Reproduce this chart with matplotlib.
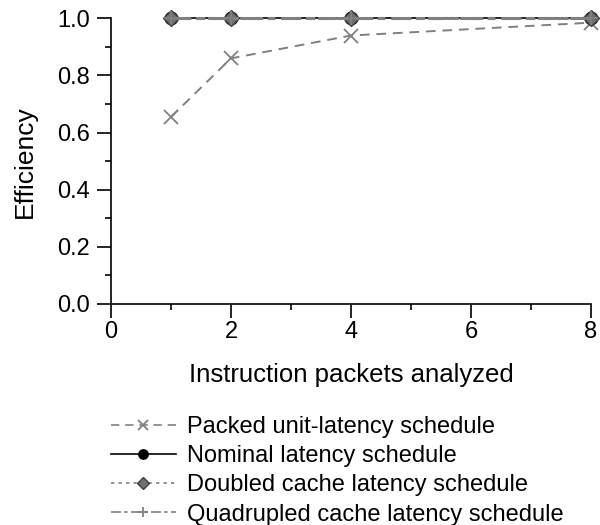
import matplotlib.pyplot as plt
from matplotlib.ticker import MultipleLocator

# packets analyzed
packets = [1, 2, 4, 8]

# efficiency per schedule
packed_unit = [0.655, 0.86, 0.94, 0.985]
nominal = [1.0, 1.0, 1.0, 1.0]
doubled_cache = [1.0, 1.0, 1.0, 1.0]
quadrupled_cache = [1.0, 1.0, 1.0, 1.0]

plt.rcParams['font.family'] = ['Liberation Sans', 'DejaVu Sans']
plt.rcParams['font.size'] = 17

fig = plt.figure(figsize=(6, 5.25), dpi=100)
ax = fig.add_axes([0.185, 0.421, 0.80, 0.544])

gray = '#808080'
ax.plot(packets, packed_unit, color=gray, linestyle=(0, (5, 3.5)), linewidth=1.4,
        marker='x', markersize=10, markeredgewidth=1.3,
        label='Packed unit-latency schedule', clip_on=False)
ax.plot(packets, nominal, color='black', linestyle='-', linewidth=1.2,
        marker='o', markersize=9, label='Nominal latency schedule', clip_on=False)
ax.plot(packets, doubled_cache, color=gray, linestyle=(0, (2, 2.5)), linewidth=2.2,
        marker='D', markersize=8, markerfacecolor='#707070', markeredgecolor='#404040',
        label='Doubled cache latency schedule', clip_on=False)
ax.plot(packets, quadrupled_cache, color=gray, linestyle=(0, (6, 2, 2, 2)), linewidth=2.2,
        marker='+', markersize=10, markeredgewidth=1.3,
        label='Quadrupled cache latency schedule', clip_on=False)

ax.set_xlim(0, 8)
ax.set_ylim(0, 1.0)
ax.xaxis.set_major_locator(MultipleLocator(2))
ax.xaxis.set_minor_locator(MultipleLocator(1))
ax.yaxis.set_major_locator(MultipleLocator(0.2))
ax.yaxis.set_minor_locator(MultipleLocator(0.1))
ax.yaxis.set_major_formatter(plt.FormatStrFormatter('%.1f'))
ax.tick_params(which='major', direction='out', length=10, width=1.2, labelsize=17)
ax.tick_params(which='minor', direction='out', length=4.5, width=1.2)
ax.tick_params(axis='x', which='major', pad=2)
ax.tick_params(axis='y', which='major', pad=5)
ax.spines['top'].set_visible(False)
ax.spines['right'].set_visible(False)
ax.spines['left'].set_linewidth(1.2)
ax.spines['bottom'].set_linewidth(1.2)

ax.set_xlabel('Instruction packets analyzed', fontsize=18.5, labelpad=15)
ax.set_ylabel('Efficiency', fontsize=19, labelpad=15)

leg = fig.legend(loc='upper left', bbox_to_anchor=(0.185, 0.207), frameon=False,
                 handlelength=2.75, handletextpad=0.45, labelspacing=0.3, fontsize=17,
                 markerscale=0.75, borderpad=0, borderaxespad=0)
# thinner lines in the legend keys
for line in leg.get_lines():
    line.set_linewidth(1.2)

fig.savefig('out.png', dpi=100)
